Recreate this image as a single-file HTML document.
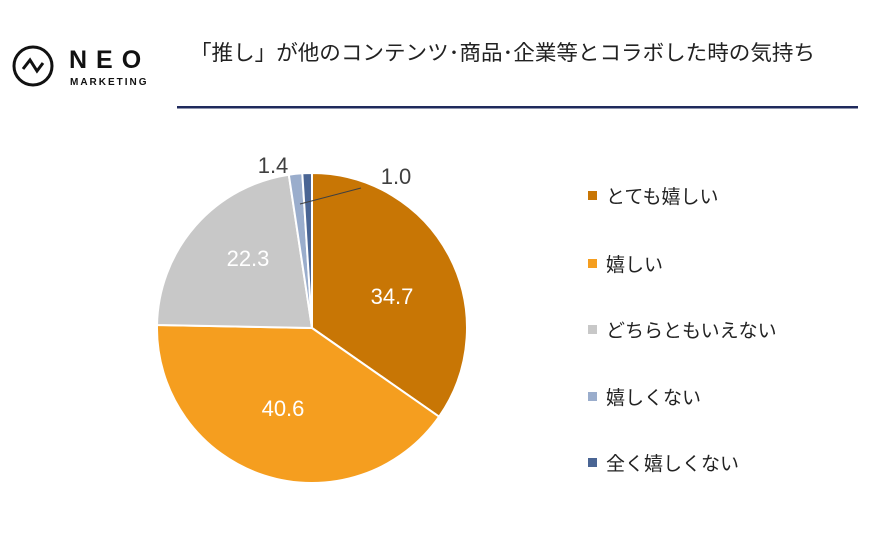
<!DOCTYPE html>
<html><head><meta charset="utf-8"><style>
body{margin:0;width:894px;height:533px;background:#fff;overflow:hidden;font-family:"Liberation Sans","Noto Sans CJK JP",sans-serif;}
</style></head><body>
<svg width="894" height="533" viewBox="0 0 894 533" xmlns="http://www.w3.org/2000/svg" font-family="Liberation Sans, Noto Sans CJK JP, sans-serif">
<circle cx="33" cy="66" r="19" fill="none" stroke="#111" stroke-width="3"/>
<polyline points="23,69 30,60 37,71 43,63" fill="none" stroke="#111" stroke-width="3"/>
<text x="69" y="68" font-size="25" font-weight="bold" fill="#111" letter-spacing="9">NEO</text>
<text x="70" y="85" font-size="10" font-weight="bold" fill="#111" letter-spacing="2">MARKETING</text>
<text x="190" y="60" font-size="21" fill="#222" textLength="625" lengthAdjust="spacingAndGlyphs">「推し」が他のコンテンツ･商品･企業等とコラボした時の気持ち</text>
<rect x="177" y="106" width="681" height="2.5" fill="#1F2A5C"/>
<g stroke="#fff" stroke-width="2" stroke-linejoin="round">
<path d="M312,328 L312,173 A155,155 0 0 1 439.1,416.7 Z" fill="#C87605"/>
<path d="M312,328 L439.1,416.7 A155,155 0 0 1 157.0,325.0 Z" fill="#F59E1F"/>
<path d="M312,328 L157.0,325.0 A155,155 0 0 1 288.8,174.7 Z" fill="#C8C8C8"/>
<path d="M312,328 L288.8,174.7 A155,155 0 0 1 302.3,173.3 Z" fill="#9AADCC"/>
<path d="M312,328 L302.3,173.3 A155,155 0 0 1 312,173 Z" fill="#4A6594"/>
</g>
<line x1="300" y1="204" x2="361" y2="188" stroke="#404040" stroke-width="1"/>
<g font-size="22" fill="#fff" text-anchor="middle">
<text x="392" y="304">34.7</text>
<text x="283" y="416">40.6</text>
<text x="248" y="266">22.3</text>
</g>
<g font-size="22" fill="#404040" text-anchor="middle">
<text x="273" y="173">1.4</text>
<text x="396" y="184">1.0</text>
</g>
<g font-size="19" fill="#222">
<rect x="588" y="191" width="9" height="9" fill="#C87605"/><text x="606" y="203">とても嬉しい</text>
<rect x="588" y="259" width="9" height="9" fill="#F59E1F"/><text x="606" y="271">嬉しい</text>
<rect x="588" y="325" width="9" height="9" fill="#C8C8C8"/><text x="606" y="337">どちらともいえない</text>
<rect x="588" y="392" width="9" height="9" fill="#9AADCC"/><text x="606" y="404">嬉しくない</text>
<rect x="588" y="458" width="9" height="9" fill="#4A6594"/><text x="606" y="470">全く嬉しくない</text>
</g>
</svg>
</body></html>
